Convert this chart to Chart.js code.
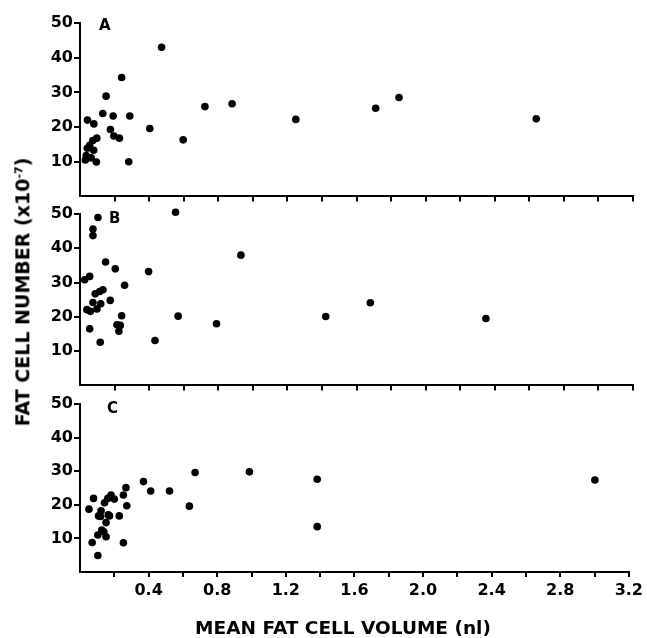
<!DOCTYPE html>
<html>
<head>
<meta charset="utf-8">
<script src="https://cdn.jsdelivr.net/npm/chart.js@4.4.1/dist/chart.umd.min.js"></script>
<style>
  body { margin: 0; background: #fff; width: 647px; height: 638px; overflow: hidden; position: relative; }
  canvas { position: absolute; left: 0; }
  .lbl { position: absolute; font: bold 15px 'DejaVu Sans'; color: #000; line-height: 1; }
  #ytitle {
    position: absolute; left: 23px; top: 292px; white-space: nowrap;
    font: bold 19px 'DejaVu Sans'; color: #000; line-height: 1;
    transform: translate(-50%, -50%) rotate(-90deg);
  }
  #ytitle sup { font-size: 11px; }
  #xtitle {
    position: absolute; left: 343px; top: 628px; white-space: nowrap;
    font: bold 18.5px 'DejaVu Sans'; color: #000; line-height: 1;
    transform: translate(-50%, -50%);
  }
</style>
</head>
<body>
<canvas id="panelA" width="647" height="207" style="top:0px"></canvas>
<canvas id="panelB" width="647" height="196" style="top:200px"></canvas>
<canvas id="panelC" width="647" height="248" style="top:390px"></canvas>
<div class="lbl" style="left:99px;top:18px">A</div>
<div class="lbl" style="left:109px;top:211px">B</div>
<div class="lbl" style="left:107px;top:401px">C</div>
<div id="ytitle">FAT CELL NUMBER (x10<sup>-7</sup>)</div>
<div id="xtitle">MEAN FAT CELL VOLUME (nl)</div>
<script>
  'use strict'

  // mean fat cell volume (nl) / fat cell number (x10^-7)
  const volA = [0.472, 0.241, 0.151, 0.132, 0.192, 0.288, 0.043, 0.080, 0.176, 0.404, 0.196, 0.228, 0.097, 0.074, 0.597,
    0.056, 0.042, 0.079, 0.036, 0.031, 0.065, 0.095, 0.282, 0.723, 0.880, 1.249, 1.711, 1.846, 2.640];
  const numA = [43.0, 34.3, 28.9, 23.9, 23.2, 23.2, 22.0, 20.9, 19.3, 19.6, 17.4, 16.8, 16.8, 16.1, 16.3,
    14.7, 13.9, 13.3, 11.8, 10.5, 11.1, 9.9, 10.0, 25.9, 26.7, 22.2, 25.4, 28.5, 22.4];

  const volB = [0.553, 0.104, 0.075, 0.075, 0.148, 0.204, 0.397, 0.931, 0.056, 0.027, 0.258, 0.133, 0.114, 0.088, 0.175, 0.075,
    0.120, 0.098, 0.040, 0.060, 0.241, 0.568, 0.214, 0.233, 0.225, 0.056, 0.790, 0.434, 0.117, 1.422, 1.680, 2.349];
  const numB = [50.5, 49.0, 45.6, 43.7, 36.0, 34.0, 33.2, 38.0, 31.8, 30.8, 29.2, 27.9, 27.4, 26.7, 24.8, 24.2,
    23.8, 22.3, 22.1, 21.6, 20.3, 20.2, 17.7, 17.5, 15.8, 16.5, 18.0, 13.1, 12.6, 20.1, 24.1, 19.5];

  const volC = [0.052, 0.079, 0.071, 0.104, 0.104, 0.152, 0.253, 0.181, 0.200, 0.253, 0.268, 0.273, 0.229, 0.370, 0.412, 0.522,
    0.638, 0.671, 0.988, 1.383, 1.383, 3.002, 0.162, 0.143, 0.123, 0.108, 0.172, 0.120, 0.152, 0.127, 0.139, 0.165];
  const numC = [18.7, 21.9, 8.8, 4.9, 11.0, 10.5, 8.7, 22.9, 21.7, 22.9, 25.1, 19.7, 16.7, 26.9, 24.1, 24.1,
    19.6, 29.6, 29.8, 27.6, 13.5, 27.4, 21.9, 20.6, 18.2, 16.7, 16.7, 16.5, 14.7, 12.5, 12.0, 17.0];

  const xTicks = ['', '', '0.4', '', '0.8', '', '1.2', '', '1.6', '', '2.0', '', '2.4', '', '2.8', '', '3.2'];
  const yTicks = ['', '10', '20', '30', '40', '50'];

  const tickFont = { family: 'DejaVu Sans', size: 16, weight: 'bold' };

  function makePanel(id, xs, ys, padTop, xHeight, bottom) {
    const ctx = document.getElementById(id);
    const points = xs.map((x, i) => ({ x: x, y: ys[i] }));
    return new Chart(ctx, {
      type: 'scatter',
      data: {
        datasets: [{
          data: points,
          backgroundColor: '#000',
          borderColor: '#000',
          borderWidth: 0,
          pointRadius: 3.8,
          pointHoverRadius: 3.8,
          clip: false
        }]
      },
      options: {
        responsive: false,
        animation: false,
        layout: { padding: { top: padTop, right: 14, left: 0, bottom: 0 } },
        plugins: {
          legend: { display: false },
          tooltip: { enabled: false }
        },
        scales: {
          x: {
            type: 'linear',
            min: 0,
            max: 3.2,
            ticks: {
              stepSize: 0.2,
              display: bottom,
              autoSkip: false,
              maxRotation: 0,
              padding: 4,
              color: '#000',
              font: tickFont,
              callback: (v, i) => xTicks[i]
            },
            grid: {
              drawOnChartArea: false,
              tickLength: 5,
              lineWidth: 2,
              color: (c) => (c.tick && c.tick.value === 0 ? 'rgba(0,0,0,0)' : '#000')
            },
            border: { color: '#000', width: 2 },
            afterFit: (s) => { s.height = xHeight; }
          },
          y: {
            min: 0,
            max: 50,
            ticks: {
              stepSize: 10,
              padding: 1,
              color: '#000',
              font: tickFont,
              callback: (v, i) => yTicks[i]
            },
            grid: {
              drawOnChartArea: false,
              tickLength: 6,
              lineWidth: 2,
              color: (c) => (c.tick && c.tick.value === 0 ? 'rgba(0,0,0,0)' : '#000')
            },
            border: { color: '#000', width: 2 },
            afterFit: (s) => { s.width = 80; }
          }
        }
      }
    });
  }

  makePanel('panelA', volA, numA, 23, 10, false);
  makePanel('panelB', volB, numB, 14, 10, false);
  makePanel('panelC', volC, numC, 14, 66, true);
</script>
</body>
</html>
